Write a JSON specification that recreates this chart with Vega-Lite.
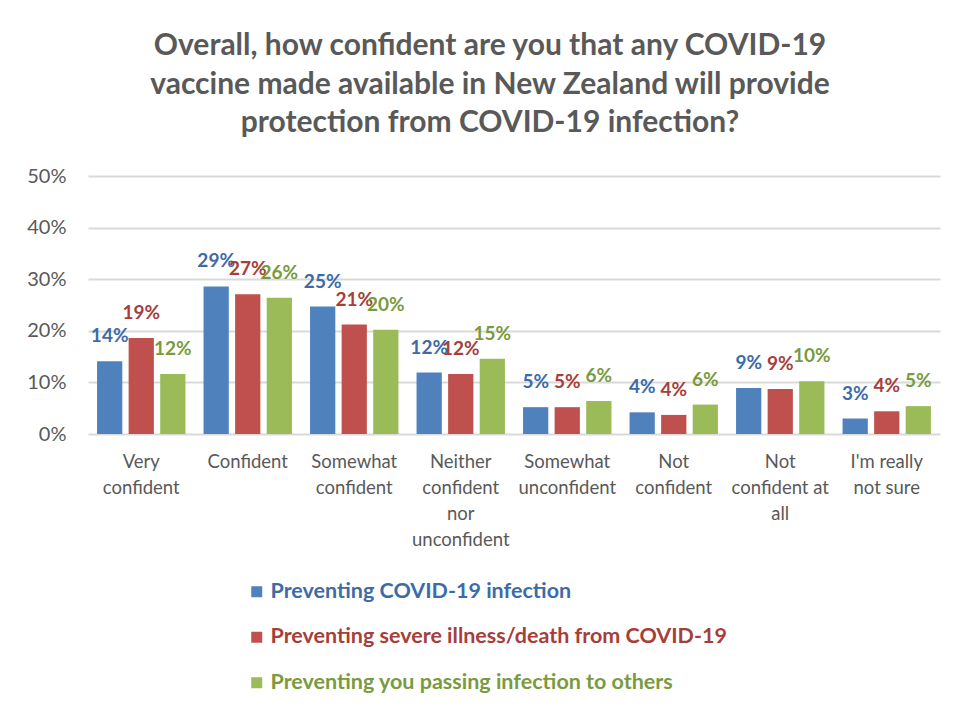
{
  "$schema": "https://vega.github.io/schema/vega-lite/v6.json",
  "autosize": "none",
  "width": 852,
  "height": 258,
  "padding": {"left": 88, "top": 176, "right": 17, "bottom": 277},
  "background": "white",
  "title": {
    "text": ["Overall, how confident are you that any COVID-19", "vaccine made available in New Zealand will provide", "protection from COVID-19 infection?"],
    "font": "Lato",
    "fontSize": 30,
    "fontWeight": "bold",
    "color": "#595959",
    "lineHeight": 38.5,
    "anchor": "middle",
    "frame": "group",
    "dx": -24,
    "offset": 28
  },
  "config": {
    "view": {"stroke": null},
    "font": "Lato"
  },
  "data": {
    "values": [
      {"category": "Very confident", "series": "Preventing COVID-19 infection", "value": 0.141},
      {"category": "Very confident", "series": "Preventing severe illness/death from COVID-19", "value": 0.186},
      {"category": "Very confident", "series": "Preventing you passing infection to others", "value": 0.1165},
      {"category": "Confident", "series": "Preventing COVID-19 infection", "value": 0.286},
      {"category": "Confident", "series": "Preventing severe illness/death from COVID-19", "value": 0.271},
      {"category": "Confident", "series": "Preventing you passing infection to others", "value": 0.264},
      {"category": "Somewhat confident", "series": "Preventing COVID-19 infection", "value": 0.247},
      {"category": "Somewhat confident", "series": "Preventing severe illness/death from COVID-19", "value": 0.212},
      {"category": "Somewhat confident", "series": "Preventing you passing infection to others", "value": 0.202},
      {"category": "Neither confident nor unconfident", "series": "Preventing COVID-19 infection", "value": 0.119},
      {"category": "Neither confident nor unconfident", "series": "Preventing severe illness/death from COVID-19", "value": 0.1165},
      {"category": "Neither confident nor unconfident", "series": "Preventing you passing infection to others", "value": 0.146},
      {"category": "Somewhat unconfident", "series": "Preventing COVID-19 infection", "value": 0.052},
      {"category": "Somewhat unconfident", "series": "Preventing severe illness/death from COVID-19", "value": 0.052},
      {"category": "Somewhat unconfident", "series": "Preventing you passing infection to others", "value": 0.064},
      {"category": "Not confident", "series": "Preventing COVID-19 infection", "value": 0.042},
      {"category": "Not confident", "series": "Preventing severe illness/death from COVID-19", "value": 0.037},
      {"category": "Not confident", "series": "Preventing you passing infection to others", "value": 0.057},
      {"category": "Not confident at all", "series": "Preventing COVID-19 infection", "value": 0.089},
      {"category": "Not confident at all", "series": "Preventing severe illness/death from COVID-19", "value": 0.087},
      {"category": "Not confident at all", "series": "Preventing you passing infection to others", "value": 0.102},
      {"category": "I'm really not sure", "series": "Preventing COVID-19 infection", "value": 0.030},
      {"category": "I'm really not sure", "series": "Preventing severe illness/death from COVID-19", "value": 0.044},
      {"category": "I'm really not sure", "series": "Preventing you passing infection to others", "value": 0.054}
    ]
  },
  "encoding": {
    "x": {
      "field": "category",
      "type": "nominal",
      "sort": null,
      "scale": {"paddingInner": 0.17, "paddingOuter": 0.085},
      "axis": {
        "title": null,
        "labelAngle": 0,
        "labelFont": "Lato",
        "labelFontSize": 18.5,
        "labelColor": "#595959",
        "labelLineHeight": 26,
        "labelPadding": 18,
        "labelBaseline": "top",
        "ticks": false,
        "domain": false,
        "labelExpr": "{'Very confident': ['Very', 'confident'], 'Confident': ['Confident'], 'Somewhat confident': ['Somewhat', 'confident'], 'Neither confident nor unconfident': ['Neither', 'confident', 'nor', 'unconfident'], 'Somewhat unconfident': ['Somewhat', 'unconfident'], 'Not confident': ['Not', 'confident'], 'Not confident at all': ['Not', 'confident at', 'all'], 'I\\'m really not sure': ['I\\'m really', 'not sure']}[datum.label]"
      }
    },
    "xOffset": {
      "field": "series",
      "type": "nominal",
      "sort": null,
      "scale": {"paddingInner": 0.2, "paddingOuter": 0}
    },
    "y": {
      "field": "value",
      "type": "quantitative",
      "scale": {"domain": [0, 0.5], "nice": false},
      "axis": {
        "title": null,
        "values": [0, 0.1, 0.2, 0.3, 0.4, 0.5],
        "format": ".0%",
        "labelFont": "Lato",
        "labelFontSize": 20,
        "labelColor": "#595959",
        "labelPadding": 22,
        "ticks": false,
        "domain": false,
        "gridColor": "#D9D9D9",
        "gridWidth": 2
      }
    }
  },
  "layer": [
    {
      "mark": {"type": "bar"},
      "encoding": {
        "color": {
          "field": "series",
          "type": "nominal",
          "scale": {
            "domain": ["Preventing COVID-19 infection", "Preventing severe illness/death from COVID-19", "Preventing you passing infection to others"],
            "range": ["#4F81BD", "#C0504D", "#9BBB59"]
          },
          "legend": {
            "title": null,
            "orient": "none",
            "legendX": 158,
            "legendY": 405,
            "direction": "vertical",
            "symbolType": "square",
            "symbolSize": 121,
            "symbolStrokeWidth": 0,
            "labelFont": "Lato",
            "labelFontSize": 21.5,
            "labelFontWeight": "bold",
            "labelOffset": 3,
            "labelLimit": 700,
            "rowPadding": 22.5,
            "encode": {
              "labels": {
                "update": {
                  "fill": {"signal": "datum.value === 'Preventing COVID-19 infection' ? '#3D6BA8' : datum.value === 'Preventing severe illness/death from COVID-19' ? '#A63E3B' : '#7A9A3E'"}
                }
              }
            }
          }
        }
      }
    },
    {
      "mark": {"type": "text", "baseline": "bottom", "dy": -15, "font": "Lato", "fontSize": 19, "fontWeight": "bold"},
      "encoding": {
        "text": {"field": "value", "type": "quantitative", "format": ".0%"},
        "color": {
          "field": "series",
          "type": "nominal",
          "scale": {
            "domain": ["Preventing COVID-19 infection", "Preventing severe illness/death from COVID-19", "Preventing you passing infection to others"],
            "range": ["#3D6BA8", "#A63E3B", "#7A9A3E"]
          },
          "legend": null
        }
      }
    }
  ],
  "resolve": {"scale": {"color": "independent"}}
}
